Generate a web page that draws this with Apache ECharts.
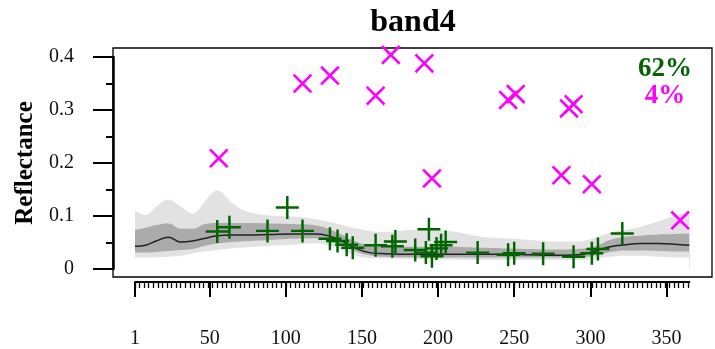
<!DOCTYPE html>
<html>
<head>
<meta charset="utf-8">
<script src="https://cdn.jsdelivr.net/npm/echarts@6/dist/echarts.min.js"></script>
<style>
  html, body { margin: 0; padding: 0; background: #fff; }
  #chart { width: 715px; height: 349px; }
</style>
</head>
<body>
<div id="chart"></div>
<script>
// 包络带（按日读取）
const bandDays = [1, 8, 15, 23, 31, 39, 47, 55, 65, 75, 90, 105, 120, 133, 146, 155, 165, 185, 207, 229, 244, 260, 275, 292, 302, 313, 323, 333, 345, 355, 365]
const outerHi = [0.110, 0.102, 0.118, 0.131, 0.118, 0.105, 0.128, 0.148, 0.124, 0.108, 0.101, 0.099, 0.094, 0.086, 0.077, 0.072, 0.070, 0.074, 0.072, 0.061, 0.058, 0.055, 0.052, 0.052, 0.058, 0.069, 0.074, 0.080, 0.090, 0.100, 0.108]
const innerHi = [0.074, 0.078, 0.083, 0.086, 0.076, 0.076, 0.085, 0.087, 0.087, 0.087, 0.086, 0.085, 0.082, 0.070, 0.052, 0.045, 0.042, 0.042, 0.042, 0.040, 0.039, 0.038, 0.037, 0.038, 0.042, 0.055, 0.061, 0.063, 0.065, 0.066, 0.067]
const median = [0.043, 0.045, 0.053, 0.060, 0.051, 0.053, 0.058, 0.063, 0.064, 0.064, 0.065, 0.066, 0.066, 0.058, 0.039, 0.031, 0.029, 0.028, 0.028, 0.028, 0.028, 0.027, 0.026, 0.027, 0.033, 0.042, 0.046, 0.048, 0.048, 0.047, 0.045]
const innerLo = [0.031, 0.031, 0.032, 0.034, 0.036, 0.038, 0.044, 0.048, 0.051, 0.053, 0.055, 0.057, 0.058, 0.048, 0.033, 0.026, 0.023, 0.022, 0.022, 0.022, 0.022, 0.022, 0.022, 0.022, 0.025, 0.032, 0.035, 0.035, 0.034, 0.033, 0.033]
const outerLo = [0.022, 0.022, 0.022, 0.023, 0.025, 0.030, 0.033, 0.036, 0.039, 0.041, 0.044, 0.046, 0.048, 0.040, 0.025, 0.021, 0.020, 0.019, 0.018, 0.017, 0.017, 0.017, 0.017, 0.017, 0.019, 0.023, 0.025, 0.025, 0.023, 0.022, 0.022]

// 观测点
const greenDays = [55, 63, 88, 101, 111, 129, 134, 140, 144, 159, 170, 172, 185, 192, 194, 196, 199, 202, 205, 226, 246, 250, 269, 289, 301, 305, 321]
const greenVals = [0.071, 0.079, 0.072, 0.116, 0.072, 0.057, 0.053, 0.046, 0.040, 0.045, 0.043, 0.052, 0.036, 0.031, 0.075, 0.024, 0.039, 0.045, 0.051, 0.031, 0.027, 0.030, 0.029, 0.023, 0.030, 0.038, 0.067]
const pinkDays = [56, 111, 129, 159, 169, 191, 196, 246, 251, 281, 286, 289, 301, 359]
const pinkVals = [0.209, 0.350, 0.365, 0.327, 0.404, 0.388, 0.171, 0.319, 0.330, 0.177, 0.303, 0.311, 0.160, 0.092]

// 刻度
const xTicks = [1, 50, 100, 150, 200, 250, 300, 350]
const xMinorTicks = []
for (let d = 1; d <= 365; d += 3) xMinorTicks.push(d)

const FONT = '"Liberation Serif", "Times New Roman", serif'
const PLUS = 'path://M10,0 h2.4 v10 h10 v2.4 h-10 v10 h-2.4 v-10 h-10 v-2.4 h10 z'
const CROSS = 'path://M11,0 h2.6 v11 h11 v2.6 h-11 v11 h-2.6 v-11 h-11 v-2.6 h11 z'

const pairs = (xs, ys) => xs.map((x, i) => [x, ys[i]])

const bandLayer = (vals, color) => ({
  type: 'line',
  xAxisIndex: 0,
  yAxisIndex: 0,
  data: pairs(bandDays, vals),
  smooth: 0.4,
  showSymbol: false,
  silent: true,
  lineStyle: { width: 0 },
  areaStyle: { color: color, opacity: 1, origin: 'auto' }
})

const chart = echarts.init(document.getElementById('chart'))

const xAxisBox = { left: 135, right: 25.6, top: 200, bottom: 66 }

const option = {
  animation: false,
  backgroundColor: '#fff',
  grid: [
    // 数据框
    { left: 113, right: 3, top: 48, bottom: 72, show: true, borderColor: '#000', borderWidth: 1.3, backgroundColor: '#fff' },
    // 横轴（主刻度）
    Object.assign({}, xAxisBox),
    // 纵轴
    { left: 113, right: 3, top: 57, bottom: 80 },
    // 横轴（次刻度）
    Object.assign({}, xAxisBox)
  ],
  xAxis: [
    { gridIndex: 0, type: 'value', min: -13.45, max: 379.9, show: false },
    {
      gridIndex: 1, type: 'value', min: 1, max: 365, position: 'bottom',
      axisLine: { show: true, lineStyle: { color: '#000', width: 2 } },
      axisTick: { show: true, length: 15, customValues: xTicks, lineStyle: { color: '#000', width: 2 } },
      axisLabel: { show: true, customValues: xTicks, margin: 47, fontFamily: FONT, fontSize: 20, color: '#111' },
      splitLine: { show: false }
    },
    { gridIndex: 2, type: 'value', show: false },
    {
      gridIndex: 3, type: 'value', min: 1, max: 365, position: 'bottom',
      axisLine: { show: false },
      axisTick: { show: true, length: 5, customValues: xMinorTicks, lineStyle: { color: '#000', width: 1.3 } },
      axisLabel: { show: false },
      splitLine: { show: false }
    }
  ],
  yAxis: [
    { gridIndex: 0, type: 'value', min: -0.015, max: 0.417, show: false },
    { gridIndex: 1, type: 'value', show: false },
    {
      gridIndex: 2, type: 'value', min: 0, max: 0.4, interval: 0.1,
      name: 'Reflectance', nameLocation: 'middle', nameGap: 67,
      nameTextStyle: { fontFamily: FONT, fontSize: 25, fontWeight: 'bold', color: '#000' },
      axisLine: { show: true, lineStyle: { color: '#000', width: 2.5 } },
      axisTick: { show: true, length: 20, lineStyle: { color: '#000', width: 2 } },
      minorTick: { show: true, splitNumber: 2, length: 7, lineStyle: { color: '#000', width: 2 } },
      axisLabel: { margin: 39, fontFamily: FONT, fontSize: 20, color: '#111' },
      splitLine: { show: false }
    },
    { gridIndex: 3, type: 'value', show: false }
  ],
  series: [
    bandLayer(outerHi, '#e2e2e2'),
    bandLayer(innerHi, '#ababab'),
    bandLayer(innerLo, '#e2e2e2'),
    bandLayer(outerLo, '#ffffff'),
    {
      type: 'line',
      xAxisIndex: 0,
      yAxisIndex: 0,
      data: pairs(bandDays, median),
      smooth: 0.4,
      showSymbol: false,
      silent: true,
      lineStyle: { color: '#222', width: 1.5 }
    },
    {
      type: 'scatter',
      xAxisIndex: 0,
      yAxisIndex: 0,
      z: 5,
      data: pairs(greenDays, greenVals),
      symbol: PLUS,
      symbolSize: 23,
      itemStyle: { color: '#006400', opacity: 1 }
    },
    {
      type: 'scatter',
      xAxisIndex: 0,
      yAxisIndex: 0,
      z: 5,
      data: pairs(pinkDays, pinkVals),
      symbol: CROSS,
      symbolSize: 25,
      symbolRotate: 45,
      itemStyle: { color: '#ff00ff', opacity: 1 }
    }
  ],
  graphic: [
    { type: 'text', x: 413, y: 23, style: { text: 'band4', font: 'bold 32px ' + FONT, fill: '#000', textAlign: 'center', textVerticalAlign: 'middle' } },
    { type: 'text', x: 665, y: 69, z: 10, style: { text: '62%', font: 'bold 27px ' + FONT, fill: '#006400', textAlign: 'center', textVerticalAlign: 'middle' } },
    { type: 'text', x: 665, y: 96, z: 10, style: { text: '4%', font: 'bold 27px ' + FONT, fill: '#ff00ff', textAlign: 'center', textVerticalAlign: 'middle' } }
  ]
}

chart.setOption(option)
</script>
</body>
</html>
